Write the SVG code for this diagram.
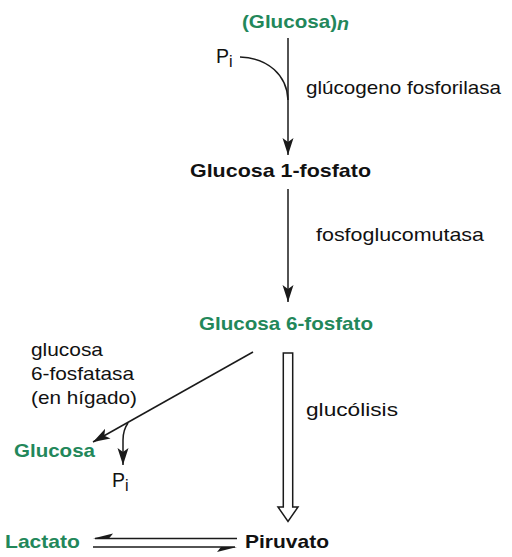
<svg xmlns="http://www.w3.org/2000/svg" width="512" height="557" viewBox="0 0 512 557">
<style>
text{font-family:"Liberation Sans",Arial,sans-serif;font-size:19px;fill:#111}
.b{font-weight:bold}
.g{fill:#22875a}
.ln{fill:none;stroke:#1a1a1a;stroke-width:1.5}
.sub{font-size:16px}
.p{font-size:21px}
</style>
<defs>
<marker id="ah" markerUnits="userSpaceOnUse" markerWidth="20" markerHeight="14" refX="17" refY="6" orient="auto" viewBox="0 0 20 12">
<path d="M17,6 L0,0.5 L4,6 L0,11.5 Z" fill="#1a1a1a"/>
</marker>
</defs>
<rect width="512" height="557" fill="#fff"/>
<g id="glucosa-n"><text x="242" y="28" class="b g" textLength="95" lengthAdjust="spacingAndGlyphs">(Glucosa)</text><text x="337" y="30" class="b g" font-style="italic" textLength="12" lengthAdjust="spacingAndGlyphs">n</text></g>
<g id="pi-top"><text x="216" y="63" class="p" textLength="13" lengthAdjust="spacingAndGlyphs">P</text><text x="229" y="67" class="sub">i</text></g>
<g id="label-fosforilasa"><text x="306" y="94" textLength="195" lengthAdjust="spacingAndGlyphs">glúcogeno fosforilasa</text></g>
<g id="g1p"><text x="190" y="177" class="b" textLength="181" lengthAdjust="spacingAndGlyphs">Glucosa 1-fosfato</text></g>
<g id="label-mutasa"><text x="316" y="241" textLength="168" lengthAdjust="spacingAndGlyphs">fosfoglucomutasa</text></g>
<g id="g6p"><text x="199" y="330" class="b g" textLength="174" lengthAdjust="spacingAndGlyphs">Glucosa 6-fosfato</text></g>
<g id="label-fosfatasa"><text x="31" y="356" textLength="72" lengthAdjust="spacingAndGlyphs">glucosa</text><text x="31" y="380" textLength="103" lengthAdjust="spacingAndGlyphs">6-fosfatasa</text><text x="31" y="404" textLength="106" lengthAdjust="spacingAndGlyphs">(en hígado)</text></g>
<g id="glucosa"><text x="14" y="457" class="b g" textLength="81" lengthAdjust="spacingAndGlyphs">Glucosa</text></g>
<g id="pi-bottom"><text x="112" y="487" class="p" textLength="13" lengthAdjust="spacingAndGlyphs">P</text><text x="125" y="491" class="sub">i</text></g>
<g id="label-glucolisis"><text x="306" y="416" textLength="92" lengthAdjust="spacingAndGlyphs">glucólisis</text></g>
<g id="lactato"><text x="5" y="548" class="b g" textLength="75" lengthAdjust="spacingAndGlyphs">Lactato</text></g>
<g id="piruvato"><text x="245" y="548" class="b" textLength="84" lengthAdjust="spacingAndGlyphs">Piruvato</text></g>
<g id="connectors">
<line class="ln" x1="288" y1="38" x2="288" y2="155" marker-end="url(#ah)"/>
<path class="ln" d="M240,57 C268,58 287,75 288,100"/>
<line class="ln" x1="288" y1="189" x2="288" y2="302" marker-end="url(#ah)"/>
<line class="ln" x1="253" y1="352" x2="93" y2="442" marker-end="url(#ah)"/>
<path class="ln" d="M128,423 Q123,430 123,440 L123,465" marker-end="url(#ah)"/>
<polygon points="283.3,353 292.7,353 292.7,507 298,507 288,521.5 278,507 283.3,507" fill="#fff" stroke="#1a1a1a" stroke-width="1.5" stroke-linejoin="miter"/>
<line class="ln" x1="95" y1="538.5" x2="237" y2="538.5"/>
<polygon points="93,538.5 113,533.5 109,538.5" fill="#1a1a1a"/>
<line class="ln" x1="93" y1="547" x2="235" y2="547"/>
<polygon points="237,547 217,552 221,547" fill="#1a1a1a"/>
</g>
</svg>
